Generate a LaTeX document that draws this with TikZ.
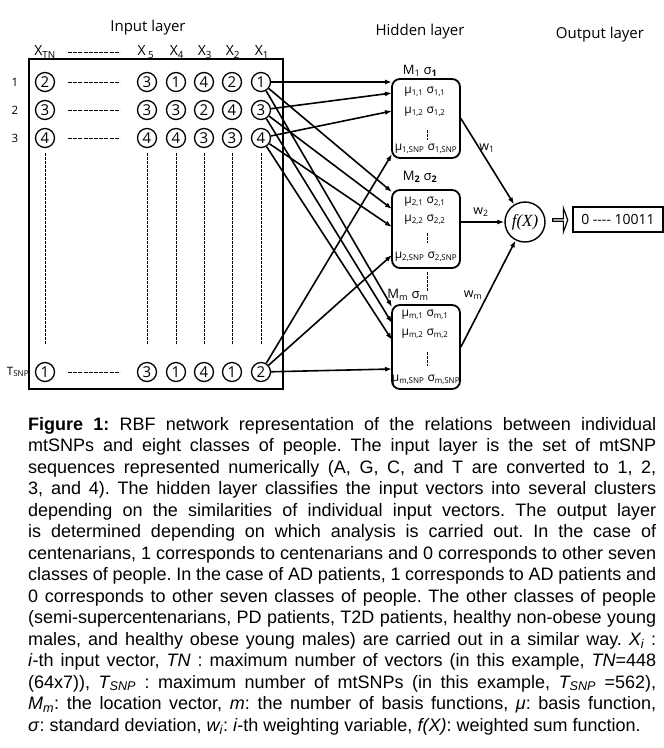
\documentclass[tikz,border=0pt]{standalone}
\usepackage{fontspec}
\setmainfont{Liberation Sans}
\newfontfamily\diagfont{Open Sans}
\newfontfamily\fxfont{Liberation Serif}
\usetikzlibrary{arrows.meta,shapes.arrows}
\frenchspacing

\tikzset{
  dig/.style={circle, draw, line width=1.3pt, inner sep=0pt, minimum size=19pt,
    font=\diagfont\fontsize{15}{15}\selectfont},
  hidbox/.style={draw, rounded corners=8pt, line width=1.8pt, minimum width=68pt},
  link/.style={line width=1.6pt, -{Latex[length=7pt,width=5pt]}},
  dashrow/.style={line width=1pt, dash pattern=on 3.9pt off 1.3pt},
  dashcol/.style={line width=0.9pt, dash pattern=on 2.6pt off 1.4pt},
  title/.style={font=\diagfont\fontsize{15}{15}\selectfont},
  colname/.style={font=\diagfont\fontsize{14}{14}\selectfont, inner sep=0pt},
  rowname/.style={font=\diagfont\fontsize{11.5}{11.5}\selectfont, inner sep=0pt},
  mutext/.style={font=\diagfont\fontsize{12}{12}\selectfont, inner sep=0pt},
  mname/.style={font=\diagfont\fontsize{13}{13}\selectfont, inner sep=0pt},
  wname/.style={font=\diagfont\fontsize{12.5}{12.5}\selectfont, inner sep=0pt},
  fxnode/.style={circle, draw, line width=1.4pt, minimum size=40pt, inner sep=0pt,
    font=\fxfont\itshape\fontsize{17}{17}\selectfont},
  outbox/.style={draw, line width=1.8pt, minimum width=90pt, minimum height=25pt,
    font=\diagfont\fontsize{14}{14}\selectfont},
}

\begin{document}
\begin{tikzpicture}[x=1pt, y=-1pt]
\useasboundingbox (0,0) rectangle (664,748);

% layer titles
\node [title] (intitle) at (148,28) {Input layer};
\node [title] (hidtitle) at (420,32) {Hidden layer};
\node [title] (outtitle) at (600,35) {Output layer};

% input layer
\draw [line width=1.2pt] (29,59) rectangle (283,389);
\node [colname] (xtn) at (45,52) {X\textsubscript{TN}};
\draw [dashrow] (68,52) -- (120,52);
\node [colname] (x5) at (146,52) {X\,\textsubscript{5}};
\node [colname] (x4) at (177,52) {X\textsubscript{4}};
\node [colname] (x3) at (205,52) {X\textsubscript{3}};
\node [colname] (x2) at (233,52) {X\textsubscript{2}};
\node [colname] (x1) at (262,52) {X\textsubscript{1}};

\node [rowname] (n1) at (15,82) {1};
\node [rowname] (n2) at (15,110) {2};
\node [rowname] (n3) at (15,138) {3};
\node [rowname] (ns) at (18,372) {T\textsubscript{SNP}};

\node [dig] (r1tn) at (45,82) {2};
\draw [dashrow] (68,82) -- (120,82);
\node [dig] (r1x5) at (147,82) {3};
\node [dig] (r1x4) at (176,82) {1};
\node [dig] (r1x3) at (204,82) {4};
\node [dig] (r1x2) at (232,82) {2};
\node [dig] (r1x1) at (261,82) {1};

\node [dig] (r2tn) at (45,110) {3};
\draw [dashrow] (68,110) -- (120,110);
\node [dig] (r2x5) at (147,110) {3};
\node [dig] (r2x4) at (176,110) {3};
\node [dig] (r2x3) at (204,110) {2};
\node [dig] (r2x2) at (232,110) {4};
\node [dig] (r2x1) at (261,110) {3};

\node [dig] (r3tn) at (45,138) {4};
\draw [dashrow] (68,138) -- (120,138);
\node [dig] (r3x5) at (147,138) {4};
\node [dig] (r3x4) at (176,138) {4};
\node [dig] (r3x3) at (204,138) {3};
\node [dig] (r3x2) at (232,138) {3};
\node [dig] (r3x1) at (261,138) {4};

\draw [dashcol] (45,153) -- (45,345);
\draw [dashcol] (147,153) -- (147,345);
\draw [dashcol] (176,153) -- (176,345);
\draw [dashcol] (204,153) -- (204,345);
\draw [dashcol] (232,153) -- (232,345);
\draw [dashcol] (261,153) -- (261,345);

\node [dig] (rstn) at (45,372) {1};
\draw [dashrow] (68,372) -- (120,372);
\node [dig] (rsx5) at (147,372) {3};
\node [dig] (rsx4) at (176,372) {1};
\node [dig] (rsx3) at (204,372) {4};
\node [dig] (rsx2) at (232,372) {1};
\node [dig] (rsx1) at (261,372) {2};

% hidden layer
\node [hidbox, minimum height=79pt] (h1) at (426,118.5) {};
\node [mname] (m1) at (420,71) {M\textsubscript{1} σ\textsubscript{\textbf{1}}};
\node [mutext] (mu11) at (425,92) {μ\textsubscript{1,1} σ\textsubscript{1,1}};
\node [mutext] (mu12) at (425,112) {μ\textsubscript{1,2} σ\textsubscript{1,2}};
\draw [dashcol] (427,130) -- (427,140);
\node [mutext] (mu1s) at (426,149) {μ\textsubscript{1,SNP} σ\textsubscript{1,SNP}};

\node [hidbox, minimum height=78pt] (h2) at (426,229) {};
\node [mname] (m2) at (420,177) {M\textsubscript{\textbf{2}} σ\textsubscript{\textbf{2}}};
\node [mutext] (mu21) at (425,202) {μ\textsubscript{2,1} σ\textsubscript{2,1}};
\node [mutext] (mu22) at (425,220) {μ\textsubscript{2,2} σ\textsubscript{2,2}};
\draw [dashcol] (427,233) -- (427,243);
\node [mutext] (mu2s) at (426,257) {μ\textsubscript{2,SNP} σ\textsubscript{2,SNP}};

\draw [dashcol] (427,272) -- (427,291);

\node [hidbox, minimum height=84pt] (hm) at (426,347) {};
\node [mname] (mm) at (408,295) {M\textsubscript{m} σ\textsubscript{m}};
\node [mutext] (mum1) at (425,315) {μ\textsubscript{m,1} σ\textsubscript{m,1}};
\node [mutext] (mum2) at (425,334) {μ\textsubscript{m,2} σ\textsubscript{m,2}};
\draw [dashcol] (427,352) -- (427,366);
\node [mutext] (mums) at (426,380) {μ\textsubscript{m,SNP} σ\textsubscript{m,SNP}};

% arrow ends on the hidden boxes
\coordinate (t11) at (392,82);
\coordinate (t12) at (392,93);
\coordinate (t13) at (392,111);
\coordinate (t1s) at (392,154);
\coordinate (t21) at (392,192);
\coordinate (t22) at (392,209);
\coordinate (t23) at (392,227);
\coordinate (t2s) at (392,255);
\coordinate (tm1) at (392,307);
\coordinate (tm2) at (392,323);
\coordinate (tm3) at (392,340);
\coordinate (tms) at (392,369);

\draw [link] (r1x1) -- (t11);
\draw [link] (r1x1) -- (t21);
\draw [link] (r1x1) -- (tm1);
\draw [link] (r2x1) -- (t12);
\draw [link] (r2x1) -- (t22);
\draw [link] (r2x1) -- (tm2);
\draw [link] (r3x1) -- (t13);
\draw [link] (r3x1) -- (t23);
\draw [link] (r3x1) -- (tm3);
\draw [link] (rsx1) -- (t1s);
\draw [link] (rsx1) -- (t2s);
\draw [link] (rsx1) -- (tms);

% output layer
\node [fxnode] (fx) at (525,222) {f(X)};
\draw [link] (h1.east) -- (fx);
\draw [link] (h2.east |- fx) -- (fx);
\draw [link] (hm.east) -- (fx);
\node [wname] (w1) at (487,148) {w\textsubscript{1}};
\node [wname] (w2) at (481,212) {w\textsubscript{2}};
\node [wname] (wm) at (473,295) {w\textsubscript{m}};

\node [single arrow, draw, line width=1.2pt, inner sep=0pt, minimum height=15pt,
  minimum width=24pt, single arrow head extend=5pt, single arrow tip angle=140]
  (oarr) at (560,220) {};
\node [outbox] (obox) at (618,219.5) {0 -{}-{}-{}- 10011};

% caption
\node [anchor=north west, inner sep=0pt, text width=628pt, align=justify,
  font=\fontsize{18}{21.5}\selectfont] (caption) at (28,416.8) {\hyphenpenalty=10000
\textbf{Figure 1:} RBF network representation of the relations between individual\linebreak
mtSNPs and eight classes of people. The input layer is the set of mtSNP\linebreak
sequences represented numerically (A, G, C, and T are converted to 1, 2,\linebreak
3, and 4). The hidden layer classifies the input vectors into several clusters\linebreak
depending on the similarities of individual input vectors. The output layer\linebreak
is determined depending on which analysis is carried out. In the case of\linebreak
centenarians, 1 corresponds to centenarians and 0 corresponds to other seven\linebreak
classes of people. In the case of AD patients, 1 corresponds to AD patients and\linebreak
0 corresponds to other seven classes of people. The other classes of people\linebreak
(semi-supercentenarians, PD patients, T2D patients, healthy non-obese young\linebreak
males, and healthy obese young males) are carried out in a similar way. \textit{X\textsubscript{i}} :\linebreak
\textit{i}-th input vector, \textit{TN} : maximum number of vectors (in this example, \textit{TN}=448\linebreak
(64x7)), \textit{T\textsubscript{SNP}} : maximum number of mtSNPs (in this example, \textit{T\textsubscript{SNP}} =562),\linebreak
\textit{M\textsubscript{m}}: the location vector, \textit{m}: the number of basis functions, \textit{μ}: basis function,\linebreak
\textit{σ}: standard deviation, \textit{w\textsubscript{i}}: \textit{i}-th weighting variable, \textit{f(X)}: weighted sum function.\par};
\end{tikzpicture}
\end{document}
